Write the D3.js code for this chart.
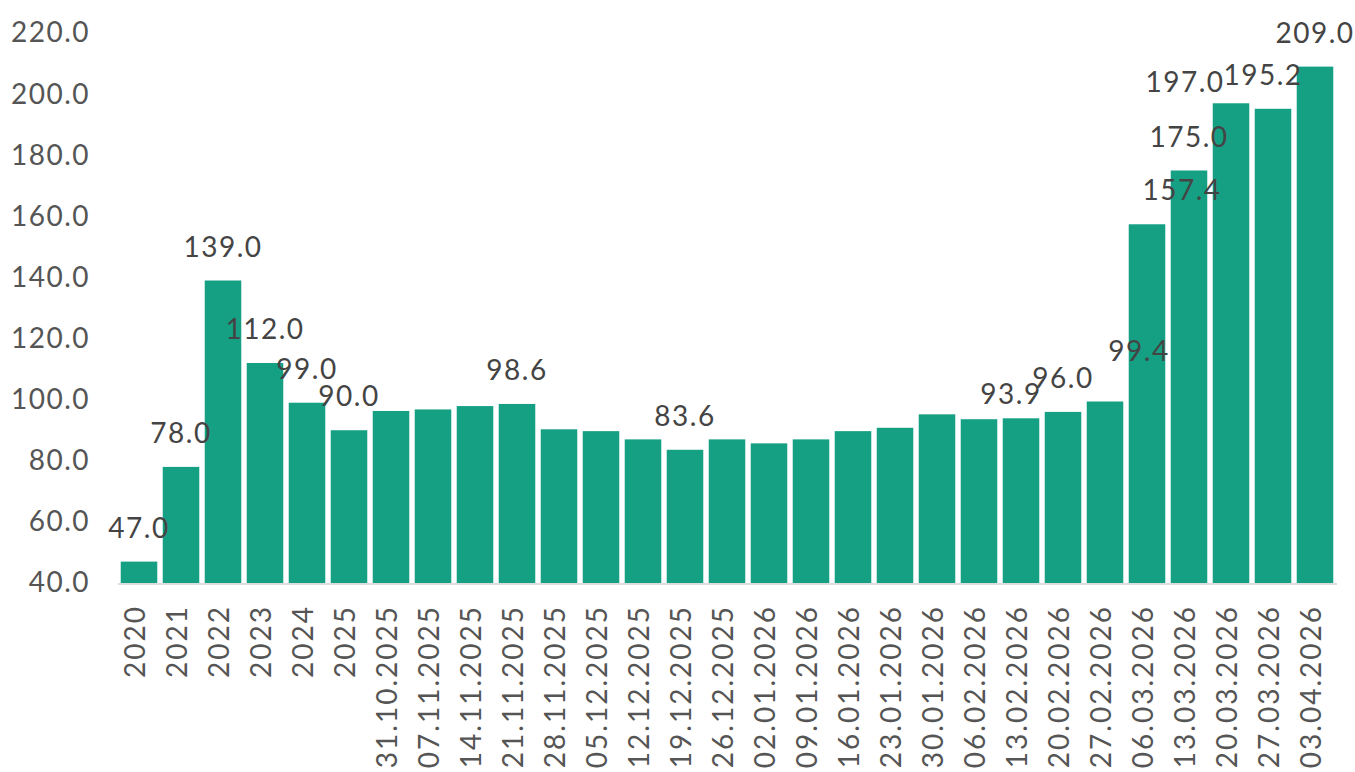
<!DOCTYPE html>
<html><head><meta charset="utf-8">
<script src="https://cdn.jsdelivr.net/npm/d3@7"></script>
<style>
body{margin:0;background:#fff;}
svg{display:block;font-family:Lato,"Open Sans",sans-serif;}
</style></head>
<body><svg id="c" width="1355" height="772"></svg>
<script>
const categories = ["2020","2021","2022","2023","2024","2025","31.10.2025","07.11.2025","14.11.2025","21.11.2025","28.11.2025","05.12.2025","12.12.2025","19.12.2025","26.12.2025","02.01.2026","09.01.2026","16.01.2026","23.01.2026","30.01.2026","06.02.2026","13.02.2026","20.02.2026","27.02.2026","06.03.2026","13.03.2026","20.03.2026","27.03.2026","03.04.2026"];
const values = [47.0,78.0,139.0,112.0,99.0,90.0,96.3,96.8,97.9,98.6,90.3,89.7,87.0,83.6,87.0,85.7,87.0,89.7,90.8,95.2,93.6,93.9,96.0,99.4,157.4,175.0,197.0,195.2,209.0];
const labelled = ["2020","2021","2022","2023","2024","2025","21.11.2025","19.12.2025","13.02.2026","20.02.2026","27.02.2026","06.03.2026","13.03.2026","20.03.2026","27.03.2026","03.04.2026"];
const yTicks = [40,60,80,100,120,140,160,180,200,220];

// label nudges (layout only)
const nudge = {"13.02.2026":[-10,10],"27.02.2026":[34,-17],"06.03.2026":[35,0],"20.03.2026":[-46,13],"27.03.2026":[-10,0]};

const svg = d3.select("#c");
const x = d3.scaleBand().domain(categories).range([118,1336]).paddingInner(0.13).paddingOuter(0.065);
const y = d3.scaleLinear().domain([40,220]).range([583,33]);

// y axis
const ya = svg.append("g").attr("transform","translate(93,0)")
  .call(d3.axisLeft(y).tickValues(yTicks).tickFormat(d3.format(".1f")).tickSize(0).tickPadding(3));
ya.select(".domain").remove();
ya.selectAll("text").attr("font-size",28).attr("fill","#555").attr("letter-spacing","1.5px").attr("font-family","Lato,sans-serif");

// baseline
svg.append("line").attr("x1",118).attr("x2",1337).attr("y1",584).attr("y2",584).attr("stroke","#ddd").attr("stroke-width",2);

// bars
svg.append("g").selectAll("rect").data(categories).join("rect")
  .attr("x",d=>x(d)).attr("width",x.bandwidth())
  .attr("y",(d,i)=>y(values[i])).attr("height",(d,i)=>y(40)-y(values[i]))
  .attr("fill","#15a084");

// value labels
svg.append("g").selectAll("text").data(categories.filter(c=>labelled.includes(c))).join("text")
  .attr("x",d=>x(d)+x.bandwidth()/2+(nudge[d]?nudge[d][0]:0))
  .attr("y",d=>y(values[categories.indexOf(d)])-24+(nudge[d]?nudge[d][1]:0))
  .attr("text-anchor","middle").attr("font-size",28).attr("fill","#444").attr("letter-spacing","1.5px")
  .text(d=>d3.format(".1f")(values[categories.indexOf(d)]));

// x axis
const xa = svg.append("g").attr("transform","translate(0,583)")
  .call(d3.axisBottom(x).tickSize(0));
xa.select(".domain").remove();
xa.selectAll("text").attr("transform","rotate(-90)").attr("text-anchor","end")
  .attr("x",-22).attr("y",-4).attr("dy","0.35em").attr("letter-spacing","2px")
  .attr("font-size",28).attr("fill","#555").attr("font-family","Lato,sans-serif");
</script></body></html>
